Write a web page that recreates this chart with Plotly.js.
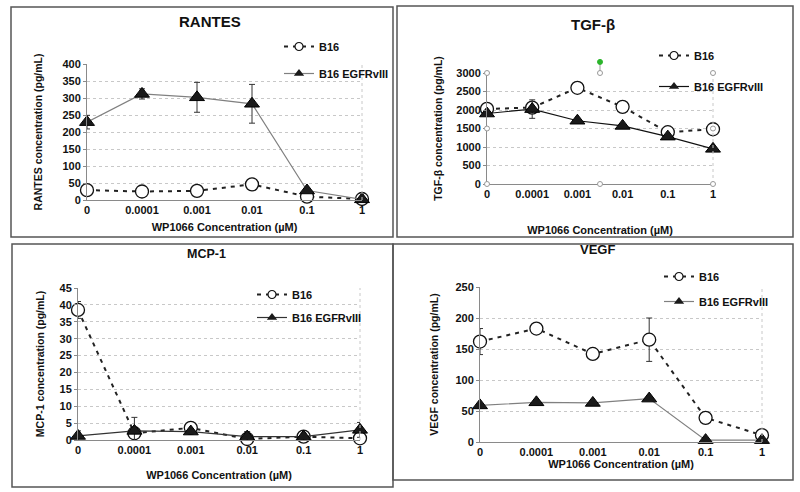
<!DOCTYPE html>
<html><head><meta charset="utf-8">
<script src="https://cdn.plot.ly/plotly-3.0.1.min.js"></script>
<style>body{margin:0;background:#fff}#chart{width:800px;height:492px}</style>
</head><body><div id="chart"></div>
<script>
// ---- data ----
const doses = ['0','0.0001','0.001','0.01','0.1','1'];

const rantesB16 = [29, 25, 27, 46, 10, 3];
const rantesB16Err = [0, 0, 0, 0, 0, 0];
const rantesEGFR = [229, 312, 302, 283, 28, 2];
const rantesEGFRErr = [20, 15, 44, 57, 0, 0];

const tgfB16 = [2030, 2065, 2600, 2085, 1400, 1480];
const tgfB16Err = [0, 0, 0, 0, 0, 0];
const tgfEGFR = [1905, 2025, 1710, 1570, 1280, 950];
const tgfEGFRErr = [0, 250, 0, 0, 0, 0];

const mcpB16 = [38.5, 2.0, 3.6, 0.3, 1.0, 0.5];
const mcpB16Err = [2.5, 0, 0, 0, 0, 0];
const mcpEGFR = [1.2, 2.7, 2.5, 1.0, 1.0, 3.0];
const mcpEGFRErr = [1.5, 4, 0, 1.5, 1, 2.2];

const vegfB16 = [162, 183, 142, 165, 39, 11];
const vegfB16Err = [21, 0, 0, 35, 0, 0];
const vegfEGFR = [59, 64, 63, 70, 3, 3];
const vegfEGFRErr = [0, 0, 0, 0, 0, 0];

const seriesNames = ['B16', 'B16 EGFRvIII'];
const panelTitles = ['RANTES', 'TGF-β', 'MCP-1', 'VEGF'];
const yTitles = ['RANTES concentration (pg/mL)', 'TGF-β concentration (pg/mL)',
                 'MCP-1 concentration (pg/mL)', 'VEGF concentration (pg/mL)'];
const xTitle = 'WP1066 Concentration (µM)';

// ---- styling ----
const FONT = 'Liberation Sans, Arial, sans-serif';
const W = 800, H = 492;
const px = x => x / W, py = y => (H - y) / H;

const b16Line = {color: '#222', width: 2, dash: '4px,5px'};
function pair(b16, b16e, egfr, egfre, n, egfrColor) {
  const ax = n === 1 ? '' : String(n);
  const leg = n === 1 ? 'legend' : 'legend' + n;
  const common = {xaxis: 'x' + ax, yaxis: 'y' + ax, legend: leg, cliponaxis: false};
  return [
    {...common, x: doses, y: b16, name: seriesNames[0], showlegend: false, mode: 'lines+markers',
     line: b16Line,
     marker: {symbol: 'circle', size: 13, color: '#fff', line: {color: '#111', width: 1.3}},
     error_y: {type: 'data', array: b16e, visible: true, color: '#333', thickness: 1, width: 3}},
    {...common, x: doses, y: egfr, name: seriesNames[1], showlegend: false, mode: 'lines+markers',
     line: {color: egfrColor, width: 1.2},
     marker: {symbol: 'triangle-up', size: 13, color: '#1a1a1a', line: {color: '#000', width: 1}},
     error_y: {type: 'data', array: egfre, visible: true, color: '#333', thickness: 1, width: 3}},
    // legend entries (small symbols, as in the reference key)
    {...common, x: [null], y: [null], name: seriesNames[0], legendgroup: 'a' + n, mode: 'lines+markers',
     line: b16Line, marker: {symbol: 'circle', size: 8, color: '#fff', line: {color: '#111', width: 1.2}}},
    {...common, x: [null], y: [null], name: seriesNames[1], legendgroup: 'b' + n, mode: 'lines+markers',
     line: {color: egfrColor, width: 1.2}, marker: {symbol: 'triangle-up', size: 9, color: '#1a1a1a'}}
  ];
}

const traces = [
  ...pair(rantesB16, rantesB16Err, rantesEGFR, rantesEGFRErr, 1, '#808080'),
  ...pair(tgfB16, tgfB16Err, tgfEGFR, tgfEGFRErr, 2, '#111'),
  ...pair(mcpB16, mcpB16Err, mcpEGFR, mcpEGFRErr, 3, '#333'),
  ...pair(vegfB16, vegfB16Err, vegfEGFR, vegfEGFRErr, 4, '#808080')
];

// panel geometry (pixels)
const plots = [
  {x0: 87, x1: 362, yb: 200, yt: 64, range: [0, 400], dtick: 50, tstand: 8, ystand: 17},
  {x0: 487, x1: 713, yb: 184, yt: 73, range: [0, 3000], dtick: 500, tstand: 27, ystand: 11},
  {x0: 78, x1: 360, yb: 440, yt: 288, range: [0, 45], dtick: 5, tstand: 16, ystand: 12},
  {x0: 480, x1: 762, yb: 442, yt: 287, range: [0, 250], dtick: 50, tstand: 2, ystand: 14}
];

const layout = {
  width: W, height: H, margin: {l: 0, r: 0, t: 0, b: 0},
  paper_bgcolor: '#fff', plot_bgcolor: '#fff',
  font: {family: FONT, size: 11, color: '#111'},
  shapes: [], annotations: []
};

plots.forEach((p, i) => {
  const s = i === 0 ? '' : String(i + 1);
  layout['xaxis' + s] = {
    domain: [px(p.x0), px(p.x1)], anchor: 'y' + s, type: 'category', range: [0, 5],
    showgrid: false, zeroline: false, showline: true, linecolor: '#8a8a8a', linewidth: 1,
    ticks: '', tickfont: {family: FONT, size: 11, weight: 'bold', color: '#111'},
    title: {text: xTitle, standoff: p.tstand, font: {family: FONT, size: 11, weight: 'bold', color: '#111'}},
    automargin: false, fixedrange: true
  };
  layout['yaxis' + s] = {
    domain: [py(p.yb), py(p.yt)], anchor: 'x' + s, range: p.range, dtick: p.dtick,
    showgrid: true, gridcolor: '#c8c8c8', griddash: 'dot', gridwidth: 1, zeroline: false,
    showline: true, linecolor: '#8a8a8a', linewidth: 1, ticks: 'outside', ticklen: 3, tickcolor: '#8a8a8a',
    tickfont: {family: FONT, size: 11, weight: 'bold', color: '#111'},
    title: {text: yTitles[i], standoff: p.ystand, font: {family: FONT, size: 10.5, weight: 'bold', color: '#111'}},
    automargin: false, fixedrange: true
  };
  // dotted right border of plot area
  layout.shapes.push({type: 'line', xref: 'x' + s + ' domain', yref: 'y' + s + ' domain',
    x0: 1, x1: 1, y0: 0, y1: 1, line: {color: '#c8c8c8', width: 1, dash: 'dot'}});
});

// panel titles
const titlePos = [[210, 22, 15], [593, 25, 15], [207, 254, 12.5], [597, 249, 13]];
titlePos.forEach((t, i) => layout.annotations.push({
  text: panelTitles[i], xref: 'paper', yref: 'paper', x: px(t[0]), y: py(t[1]),
  xanchor: 'center', yanchor: 'middle', showarrow: false,
  font: {family: FONT, size: t[2], weight: 'bold', color: '#111'}
}));

// legends
const legPos = [[279, 32, 8], [654, 41, 12], [252, 280, 4], [659, 262, 6]];
legPos.forEach((l, i) => {
  layout[i === 0 ? 'legend' : 'legend' + (i + 1)] = {
    x: px(l[0]), y: py(l[1]), xanchor: 'left', yanchor: 'top',
    bgcolor: 'rgba(0,0,0,0)', borderwidth: 0, tracegroupgap: l[2],
    font: {family: FONT, size: 11, weight: 'bold', color: '#111'}, itemwidth: 30
  };
});

// panel frames
const frames = [[11, 7, 393, 237], [397, 6, 793, 237], [12, 244, 393, 487], [393, 244, 793, 480]];
frames.forEach(f => layout.shapes.push({type: 'rect', xref: 'paper', yref: 'paper',
  x0: px(f[0]), x1: px(f[2]), y0: py(f[3]), y1: py(f[1]), line: {color: '#555', width: 1.5}}));

// selection handles visible around the TGF-β plot area (image artefact)
const handleX = [0, 0.5, 1, 0, 1, 0, 0.5, 1];
const handleY = [1, 1, 1, 0.5, 0.5, 0, 0, 0];
layout.shapes.push({type: 'line', xref: 'x2 domain', yref: 'y2 domain', x0: 0.5, x1: 0.5, y0: 1, y1: 1.1,
  line: {color: '#999', width: 1}});
handleX.forEach((hx, i) => layout.shapes.push({type: 'circle', xref: 'x2 domain', yref: 'y2 domain',
  xsizemode: 'pixel', ysizemode: 'pixel', xanchor: hx, yanchor: handleY[i], x0: -2.5, x1: 2.5, y0: -2.5, y1: 2.5,
  fillcolor: '#fff', line: {color: '#999', width: 1}}));
layout.shapes.push({type: 'circle', xref: 'x2 domain', yref: 'y2 domain',
  xsizemode: 'pixel', ysizemode: 'pixel', xanchor: 0.5, yanchor: 1.1, x0: -2.5, x1: 2.5, y0: -2.5, y1: 2.5,
  fillcolor: '#2bb52b', line: {color: '#2bb52b', width: 1}});

Plotly.newPlot('chart', traces, layout, {displayModeBar: false, staticPlot: true});
</script>
</body></html>
